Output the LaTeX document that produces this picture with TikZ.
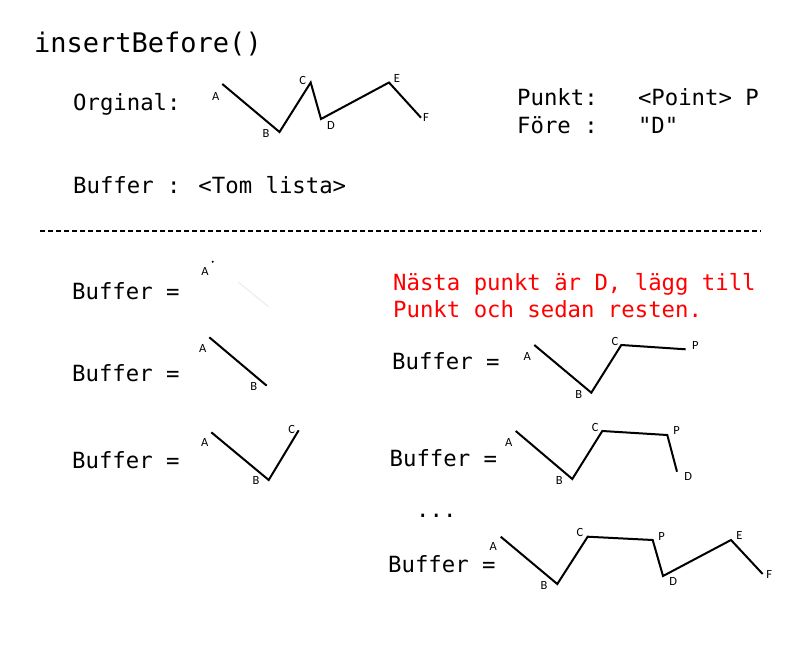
\documentclass[tikz,border=0pt]{standalone}
\usepackage{fontspec}
\newfontfamily\monofont{DejaVu Sans Mono}
\newfontfamily\lblfont{Carlito}
\tikzstyle{txt}=[anchor=base west,inner sep=0,font=\monofont\fontsize{22.3}{26}\selectfont]
\tikzstyle{lbl}=[inner sep=0,font=\lblfont\fontsize{12.5}{14}\selectfont]
\tikzstyle{poly}=[line width=2pt,line join=miter]
\tikzstyle{divider}=[line width=1.8pt,dash pattern=on 5pt off 3pt]

\begin{document}
\begin{tikzpicture}[x=1pt,y=-1pt]
    \useasboundingbox (0,0) rectangle (800,650);
    \node[txt,font=\monofont\fontsize{27}{32}\selectfont] (title) at (34,52.3) {insertBefore()};
    \node[txt] (orglbl) at (73,110.7) {Orginal:};
    \node[txt] (buflbl) at (73,193.3) {Buffer : <Tom lista>};
    \node[txt] (punkt) at (517,106) {Punkt:\ \ \ <Point> P};
    \node[txt] (fore) at (517,133.3) {Före :\ \ \ "D"};
    % original list
    \coordinate (oA) at (222.3,84);
    \coordinate (oB) at (279.5,132);
    \coordinate (oC) at (310.7,82.5);
    \coordinate (oD) at (321,119);
    \coordinate (oE) at (389,82.5);
    \coordinate (oF) at (421,117.7);
    \draw[poly] (oA) -- (oB) -- (oC) -- (oD) -- (oE) -- (oF);
    \node[lbl] (oAl) at (215.7,96) {A};
    \node[lbl] (oBl) at (266,133.3) {B};
    \node[lbl] (oCl) at (302.7,80.7) {C};
    \node[lbl] (oDl) at (331,125) {D};
    \node[lbl] (oEl) at (397,78.7) {E};
    \node[lbl] (oFl) at (426,117.7) {F};
    \coordinate (divL) at (40,231);
    \coordinate (divR) at (761,231);
    \draw[divider] (divL) -- (divR);
    % left column
    \node[txt] (buf1) at (72,299.3) {Buffer =};
    \node[txt] (buf2) at (72,381.7) {Buffer =};
    \node[txt] (buf3) at (72,468.3) {Buffer =};
    \coordinate (aA) at (212.7,261.7);
    \fill (aA) circle (1.1);
    \coordinate (aS) at (238,282);
    \coordinate (aT) at (269,307);
    \draw[black!8,line width=1pt] (aS) -- (aT);
    \node[lbl] (aAl) at (205,271) {A};
    \coordinate (bA) at (209.3,337.3);
    \coordinate (bB) at (266.7,385.7);
    \draw[poly] (bA) -- (bB);
    \node[lbl] (bAl) at (202.7,348.3) {A};
    \node[lbl] (bBl) at (253.7,386) {B};
    \coordinate (cA) at (211.3,432.3);
    \coordinate (cB) at (268.7,480);
    \coordinate (cC) at (298.7,430.3);
    \draw[poly] (cA) -- (cB) -- (cC);
    \node[lbl] (cAl) at (204.7,442.7) {A};
    \node[lbl] (cBl) at (256,480) {B};
    \node[lbl] (cCl) at (291.7,429) {C};
    % right column
    \node[txt,red] (note1) at (393,290.7) {Nästa punkt är D, lägg till};
    \node[txt,red] (note2) at (393,317.3) {Punkt och sedan resten.};
    \node[txt] (buf4) at (392,369.3) {Buffer =};
    \node[txt] (buf5) at (389.5,466.7) {Buffer =};
    \node[txt] (dots) at (416,517.3) {...};
    \node[txt] (buf6) at (388,572.7) {Buffer =};
    \coordinate (dA) at (534.3,345);
    \coordinate (dB) at (591.3,392.7);
    \coordinate (dC) at (621.3,345);
    \coordinate (dP) at (685.7,349.3);
    \draw[poly] (dA) -- (dB) -- (dC) -- (dP);
    \node[lbl] (dAl) at (527.3,356) {A};
    \node[lbl] (dBl) at (578.7,394) {B};
    \node[lbl] (dCl) at (615,341.7) {C};
    \node[lbl] (dPl) at (695.3,345) {P};
    \coordinate (eA) at (515.7,431);
    \coordinate (eB) at (572.3,479);
    \coordinate (eC) at (602.3,431);
    \coordinate (eP) at (667.3,435);
    \coordinate (eD) at (677,471.7);
    \draw[poly] (eA) -- (eB) -- (eC) -- (eP) -- (eD);
    \node[lbl] (eAl) at (508.7,442.7) {A};
    \node[lbl] (eBl) at (559.3,480) {B};
    \node[lbl] (eCl) at (595.3,427.3) {C};
    \node[lbl] (ePl) at (676.7,430.7) {P};
    \node[lbl] (eDl) at (688.3,476.7) {D};
    \coordinate (fA) at (500.7,536.7);
    \coordinate (fB) at (557.3,584);
    \coordinate (fC) at (587.7,536.7);
    \coordinate (fP) at (652.7,540);
    \coordinate (fD) at (663,576);
    \coordinate (fE) at (731,540);
    \coordinate (fF) at (762.7,574);
    \draw[poly] (fA) -- (fB) -- (fC) -- (fP) -- (fD) -- (fE) -- (fF);
    \node[lbl] (fAl) at (493.3,546.7) {A};
    \node[lbl] (fBl) at (544,585) {B};
    \node[lbl] (fCl) at (580,532.7) {C};
    \node[lbl] (fPl) at (661.7,536.7) {P};
    \node[lbl] (fDl) at (673.3,581.7) {D};
    \node[lbl] (fEl) at (739.3,535) {E};
    \node[lbl] (fFl) at (769.3,574) {F};
\end{tikzpicture}
\end{document}
